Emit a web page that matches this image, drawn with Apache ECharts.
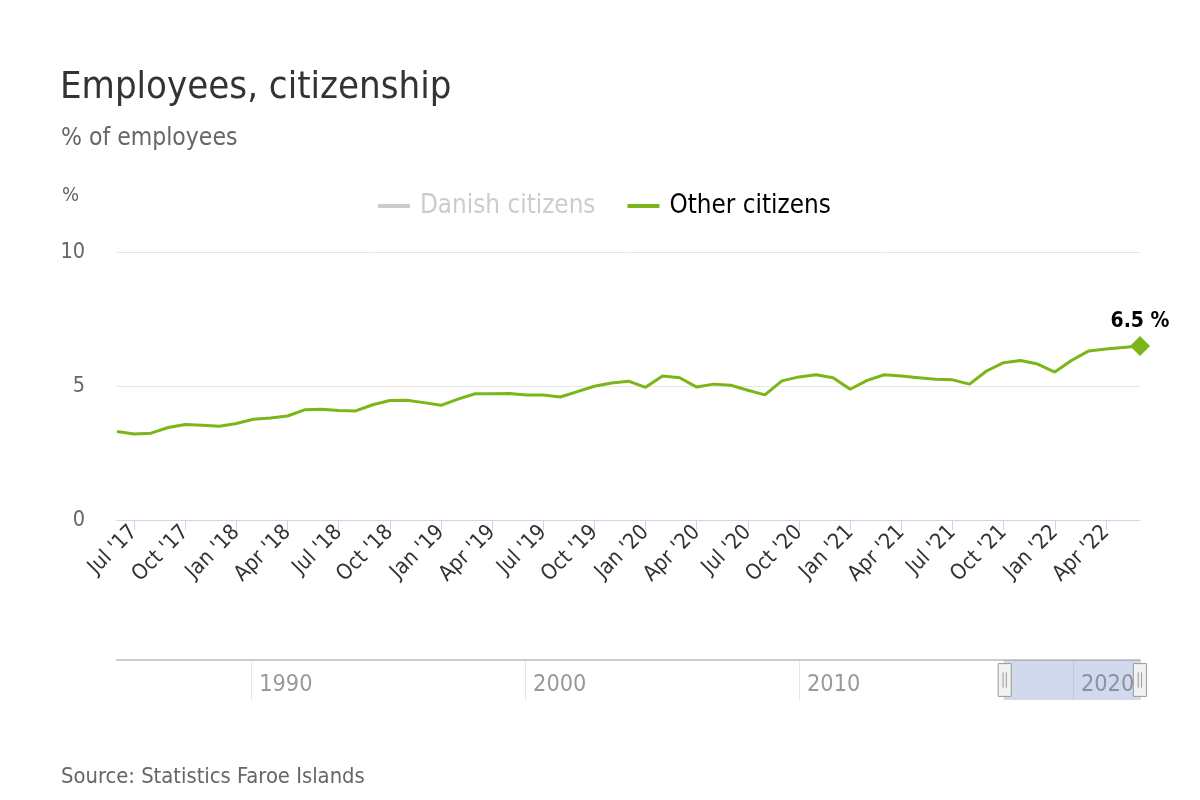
<!DOCTYPE html>
<html>
<head>
<meta charset="utf-8">
<script src="https://cdn.jsdelivr.net/npm/echarts@6/dist/echarts.min.js"></script>
<style>html,body{margin:0;padding:0;background:#fff}#chart{width:1200px;height:800px}</style>
</head>
<body>
<div id="chart"></div>
<script>
// ---- data ----
const months = [
  "Jun '17","Jul '17","Aug '17","Sep '17","Oct '17","Nov '17","Dec '17",
  "Jan '18","Feb '18","Mar '18","Apr '18","May '18","Jun '18","Jul '18","Aug '18","Sep '18","Oct '18","Nov '18","Dec '18",
  "Jan '19","Feb '19","Mar '19","Apr '19","May '19","Jun '19","Jul '19","Aug '19","Sep '19","Oct '19","Nov '19","Dec '19",
  "Jan '20","Feb '20","Mar '20","Apr '20","May '20","Jun '20","Jul '20","Aug '20","Sep '20","Oct '20","Nov '20","Dec '20",
  "Jan '21","Feb '21","Mar '21","Apr '21","May '21","Jun '21","Jul '21","Aug '21","Sep '21","Oct '21","Nov '21","Dec '21",
  "Jan '22","Feb '22","Mar '22","Apr '22","May '22","Jun '22"
];
const otherCitizens = [
  3.30,3.21,3.24,3.45,3.56,3.54,3.50,
  3.60,3.76,3.81,3.88,4.11,4.13,4.09,4.07,4.30,4.46,4.47,4.38,
  4.28,4.51,4.71,4.71,4.72,4.66,4.66,4.59,4.79,4.99,5.11,5.18,
  4.95,5.37,5.31,4.96,5.07,5.03,4.84,4.67,5.19,5.34,5.42,5.31,
  4.88,5.21,5.42,5.37,5.31,5.25,5.23,5.07,5.56,5.87,5.95,5.82,
  5.52,5.96,6.31,6.38,6.44,6.49
];
const danishCitizens = []; // series is switched off in the legend; its values are not visible
const quarterMonths = ["Jul", "Oct", "Jan", "Apr"];
const yTicks = [0, 5, 10];
const navigatorYears = [1990, 2000, 2010, 2020];
const navigatorRange = [1985.1, 2022.45];
const navigatorSelection = [2017.44, 2022.45];

// ---- styles ----
const FONT = "'DejaVu Sans Condensed', 'DejaVu Sans', sans-serif";
const GREEN = '#7cb518';
const isQuarter = (idx, val) => quarterMonths.some(m => String(val).indexOf(m) === 0);
const last = otherCitizens.length - 1;

const chart = echarts.init(document.getElementById('chart'), null, {renderer: 'canvas'});
chart.setOption({
  animation: false,
  backgroundColor: '#ffffff',
  textStyle: {fontFamily: FONT},
  title: [
    {text: 'Employees, citizenship', left: 55, top: 64,
     textStyle: {fontSize: 38, fontWeight: 'normal', color: '#333333', fontFamily: FONT}},
    {text: '% of employees', left: 56, top: 121,
     textStyle: {fontSize: 24.5, fontWeight: 'normal', color: '#666666', fontFamily: FONT}},
    {text: 'Source: Statistics Faroe Islands', left: 56, top: 761,
     textStyle: {fontSize: 21.8, fontWeight: 'normal', color: '#666666', fontFamily: FONT}}
  ],
  legend: {
    left: 373, top: 188,
    data: ['Danish citizens', 'Other citizens'],
    selected: {'Danish citizens': false, 'Other citizens': true},
    icon: 'rect', itemWidth: 32, itemHeight: 4, itemGap: 32,
    inactiveColor: '#cccccc',
    textStyle: {fontSize: 25.8, color: '#000000', fontFamily: FONT, padding: [0, 0, 0, 5]}
  },
  grid: [
    {left: 117, right: 60, top: 252, bottom: 280},
    {left: 117, right: 60, top: 660, height: 40}
  ],
  xAxis: [
    {
      type: 'category', gridIndex: 0, data: months, boundaryGap: false,
      axisLine: {lineStyle: {color: '#ccd6eb', width: 1}},
      axisTick: {interval: isQuarter, length: 10, lineStyle: {color: '#ccd6eb'}},
      axisLabel: {interval: isQuarter, rotate: 45, fontSize: 21.5, color: '#333333', margin: 9, fontFamily: FONT},
      splitLine: {show: false}
    },
    {
      type: 'value', gridIndex: 1, min: navigatorRange[0], max: navigatorRange[1], position: 'top',
      axisLine: {show: true, onZero: false, lineStyle: {color: '#cccccc', width: 2}},
      axisTick: {show: false, customValues: navigatorYears},
      axisLabel: {customValues: navigatorYears, inside: true, align: 'left', verticalAlign: 'middle',
                  formatter: v => String(v),
                  margin: 25, padding: [0, 0, 0, 8], color: '#999999', fontSize: 23.3, fontFamily: FONT},
      splitLine: {show: true, lineStyle: {color: '#e6e6e6', width: 1}}
    },
    {
      type: 'value', gridIndex: 1, min: navigatorRange[0], max: navigatorRange[1], show: false
    }
  ],
  yAxis: [
    {
      type: 'value', gridIndex: 0, min: yTicks[0], max: yTicks[2], interval: 5,
      name: '%', nameLocation: 'end', nameGap: 46,
      nameTextStyle: {color: '#666666', fontSize: 20, align: 'right', padding: [0, 38, 0, 0], fontFamily: FONT},
      axisLine: {show: false}, axisTick: {show: false},
      axisLabel: {color: '#666666', fontSize: 21.5, margin: 32, fontFamily: FONT},
      splitLine: {lineStyle: {color: '#e6e6e6', width: 1}}
    },
    {type: 'value', gridIndex: 1, show: false, min: 0, max: 1}
  ],
  dataZoom: [{
    type: 'slider', xAxisIndex: 2, filterMode: 'none',
    startValue: navigatorSelection[0], endValue: navigatorSelection[1],
    left: 117, right: 60, top: 660, height: 40,
    backgroundColor: 'rgba(0,0,0,0)', borderColor: 'rgba(0,0,0,0)',
    fillerColor: 'rgba(102,133,194,0.3)',
    showDetail: false, showDataShadow: false, brushSelect: false, moveHandleSize: 0,
    handleIcon: 'path://M0,0 L12,0 L12,30 L0,30 Z M4.5,8 L4.5,22 M7.5,8 L7.5,22',
    handleSize: '82%',
    handleStyle: {color: '#f2f2f2', borderColor: '#999999', borderWidth: 1},
    emphasis: {handleStyle: {color: '#f2f2f2', borderColor: '#999999'}}
  }],
  series: [
    {
      name: 'Danish citizens', type: 'line', xAxisIndex: 0, yAxisIndex: 0,
      data: danishCitizens, color: '#2f5f8a', symbol: 'none'
    },
    {
      name: 'Other citizens', type: 'line', xAxisIndex: 0, yAxisIndex: 0,
      color: GREEN, symbol: 'diamond', showSymbol: true, showAllSymbol: true,
      symbolSize: (v, p) => (p.dataIndex === last ? 20 : 0),
      lineStyle: {color: GREEN, width: 3},
      itemStyle: {color: GREEN},
      emphasis: {disabled: true},
      label: {show: false, position: 'top', distance: 4, fontSize: 21, fontWeight: 'bold', color: '#000000',
              fontFamily: FONT, formatter: p => Number(p.value).toFixed(1) + ' %'},
      data: otherCitizens.map((v, i) => i === last ? {value: v, label: {show: true}} : v)
    }
  ]
});
</script>
</body>
</html>
